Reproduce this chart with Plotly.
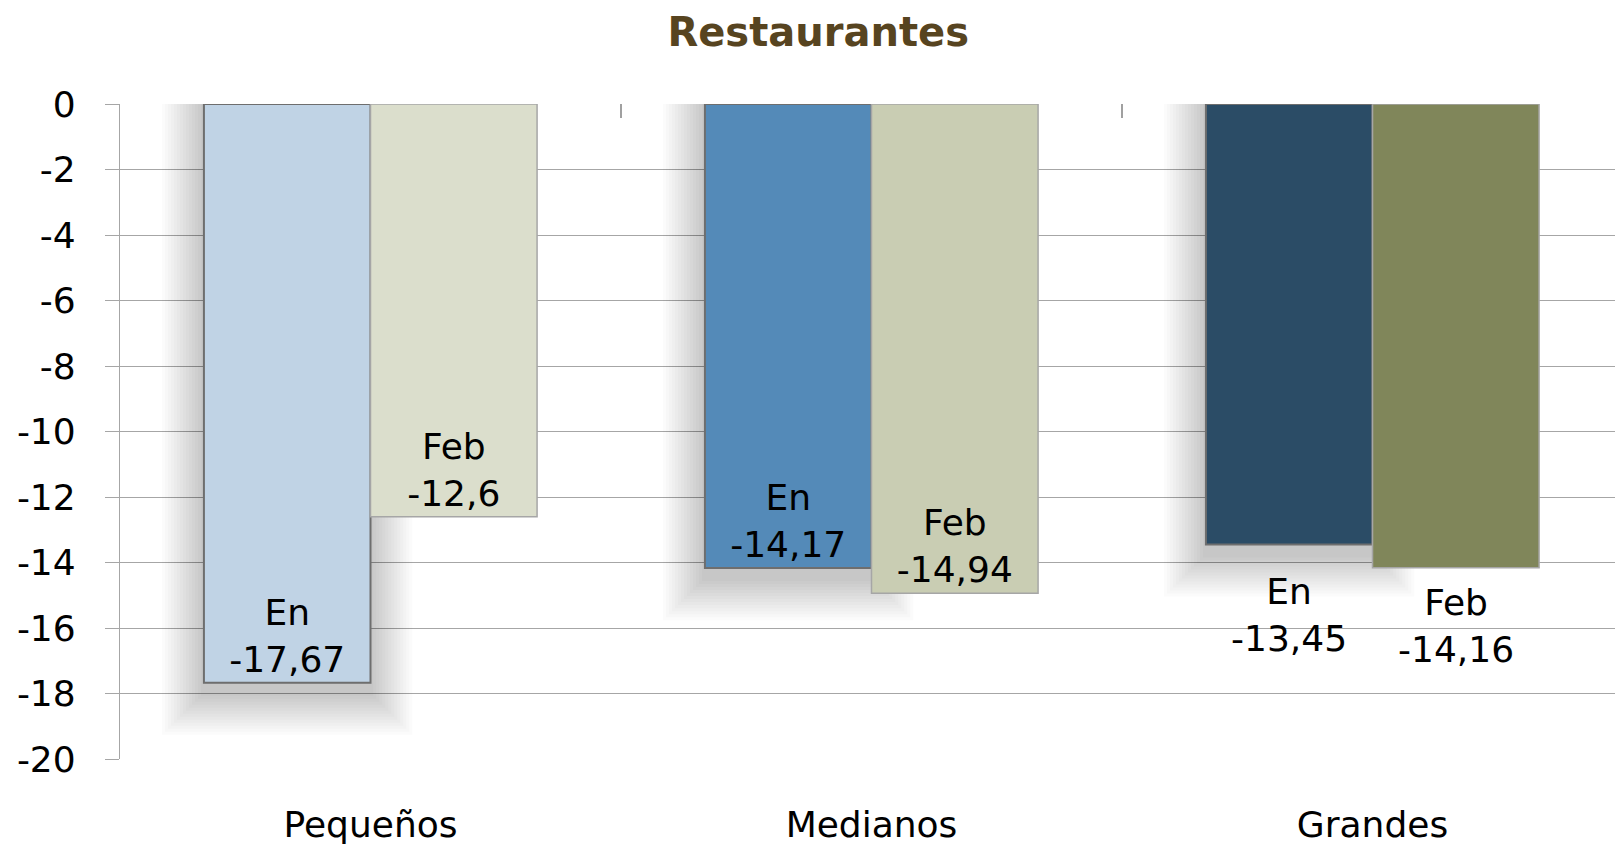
import plotly.graph_objects as go

categories = ["Pequeños", "Medianos", "Grandes"]
en_values = [-17.67, -14.17, -13.45]
feb_values = [-12.6, -14.94, -14.16]
en_name = "En"
feb_name = "Feb"
en_colors = ["#C0D3E5", "#548AB8", "#2B4C66"]
feb_colors = ["#DBDECC", "#C9CDB3", "#80865A"]
label_positions = ["inside", "inside", "outside"]
y_ticks = list(range(-20, 1, 2))
title_text = "Restaurantes"

FONT = "'DejaVu Sans', sans-serif"
FS = 36
BAR_W = (1 - 0.335) / 2

# pixel -> data-unit helpers for the soft shadow (layout styling only)
PX_X = 1.0 / 502.0
PX_Y = 20.0 / 654.0


def fmt(v):
    s = ("%.2f" % v).rstrip("0").rstrip(".")
    return s.replace(".", ",")


fig = go.Figure()

# soft drop shadow behind the "En" bars (stacked translucent layers)
n_layers = 14
for i in range(1, n_layers + 1):
    e = 3 * i
    fig.add_trace(go.Bar(
        x=categories,
        y=[v - (10 + e) * PX_Y for v in en_values],
        base=0,
        width=BAR_W + 2 * e * PX_X,
        offset=-BAR_W - e * PX_X,
        marker=dict(color="rgba(0,0,0,0.016)", line=dict(width=0)),
        hoverinfo="skip", showlegend=False,
    ))

txt_font = dict(family=FONT, size=FS, color="#000000")

def inside_texts(name, values):
    return [f"{name}<br>{fmt(v)}" if p == "inside" else ""
            for v, p in zip(values, label_positions)]

fig.add_trace(go.Bar(
    x=categories, y=en_values, name=en_name,
    width=BAR_W, offset=-BAR_W,
    marker=dict(color=en_colors, line=dict(color="#6E6E6E", width=2)),
    text=inside_texts(en_name, en_values),
    textposition="inside", insidetextanchor="end",
    textfont=txt_font, insidetextfont=txt_font,
    cliponaxis=False,
))
fig.add_trace(go.Bar(
    x=categories, y=feb_values, name=feb_name,
    width=BAR_W, offset=0,
    marker=dict(color=feb_colors, line=dict(color="#A6A6A6", width=1.5)),
    text=inside_texts(feb_name, feb_values),
    textposition="inside", insidetextanchor="end",
    textfont=txt_font, insidetextfont=txt_font,
    cliponaxis=False,
))

# labels that sit below the bars
for idx, pos in enumerate(label_positions):
    if pos != "outside":
        continue
    for name, vals, dx, gap in ((en_name, en_values, -BAR_W / 2, 25),
                                (feb_name, feb_values, BAR_W / 2, 12)):
        fig.add_annotation(
            x=idx + dx, y=vals[idx], xref="x", yref="y",
            text=f"{name}<br>{fmt(vals[idx])}", showarrow=False,
            xanchor="center", yanchor="top", yshift=-gap,
            font=txt_font,
        )

# invisible helper trace on a top axis to draw category boundary tick marks
fig.add_trace(go.Scatter(x=[-0.5, 2.5], y=[0, 0], xaxis="x2", mode="lines",
                         line=dict(width=0), hoverinfo="skip", showlegend=False))

fig.update_layout(
    width=1615, height=838,
    paper_bgcolor="white", plot_bgcolor="white",
    barmode="overlay",
    showlegend=False,
    margin=dict(l=112, r=0, t=96, b=87),
    title=dict(text=title_text, x=0.5017, xanchor="center", y=0.971, yanchor="middle",
               yref="container",
               font=dict(family=FONT, size=40, color="#574420", weight="bold")),
    font=dict(family=FONT, color="#000000"),
    xaxis=dict(
        type="category", showgrid=False, showline=False, zeroline=False,
        ticks="", tickfont=dict(family=FONT, size=FS, color="#000000"),
        ticklabelstandoff=41, automargin=False,
    ),
    xaxis2=dict(
        overlaying="x", side="top", range=[-0.5, 2.5], showgrid=False,
        showline=False, zeroline=False, tickvals=[0.5, 1.5],
        ticks="inside", ticklen=14, tickwidth=1.5, tickcolor="#A0A0A0",
        showticklabels=False, anchor="y", automargin=False,
    ),
    yaxis=dict(
        range=[-20, 0], tickvals=y_ticks, ticktext=[str(t) for t in y_ticks],
        showgrid=True, gridcolor="#A6A6A6", gridwidth=1.2,
        zeroline=False, showline=True, linecolor="#A6A6A6", linewidth=1.2,
        ticks="outside", ticklen=14, tickcolor="#A6A6A6", tickwidth=1.2,
        tickfont=dict(family=FONT, size=FS, color="#000000"),
        ticklabelstandoff=22, automargin=False,
    ),
)

fig.write_html("out.html")
